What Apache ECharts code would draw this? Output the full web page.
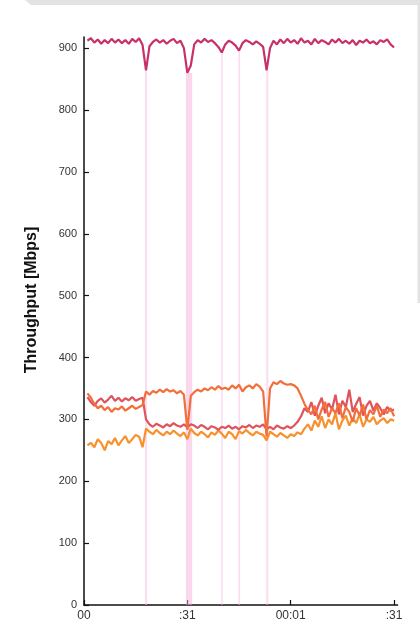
<!DOCTYPE html>
<html>
<head>
<meta charset="utf-8">
<script src="https://cdn.jsdelivr.net/npm/echarts@6/dist/echarts.min.js"></script>
<style>
html,body{margin:0;padding:0;background:#fff;}
#c{width:420px;height:627px;}
</style>
</head>
<body>
<div id="c"></div>
<script>
// sample times are 1 s apart, starting at t = 1 s
const xTickValues = [0, 30, 60, 90];
const xTickLabels = ['00', ':31', '00:01', ':31'];
const yTickValues = [0, 100, 200, 300, 400, 500, 600, 700, 800, 900];

const topSeries = [
  912, 916, 909, 914, 907, 913, 908, 915, 909, 914,
  908, 913, 907, 915, 910, 916, 905, 864, 903, 910,
  914, 909, 913, 907, 912, 915, 908, 912, 900, 860,
  872, 906, 913, 909, 915, 910, 913, 908, 902, 893,
  906, 912, 909, 904, 896, 908, 913, 910, 906, 911,
  907, 902, 864, 900, 912, 906, 914, 908, 915, 909,
  913, 907, 916, 909, 912, 906, 915, 908, 913, 910,
  906, 914, 909, 915, 908, 912, 907, 913, 905, 912,
  909, 914, 908, 911, 906, 913, 910, 914, 906, 901
];
const redSeries = [
  336, 328, 322, 330, 334, 327, 332, 338, 330, 335,
  329, 334, 331, 336, 330, 333, 335, 300, 292, 288,
  293, 290, 287, 292, 289, 294, 290, 288, 292, 287,
  292, 290, 286, 291, 288, 284, 289, 287, 283, 288,
  286, 290, 285, 288, 284, 289, 287, 291, 286, 290,
  288, 292, 284, 288, 284, 290, 287, 285, 289, 286,
  290, 296, 305, 318, 312, 328, 306, 322, 335, 310,
  326, 316, 340, 308, 330, 320, 348, 312, 325, 336,
  306, 322, 330, 314, 326, 318, 308, 320, 314, 316
];
const orangeRedSeries = [
  342, 335, 325, 318, 322, 315, 320, 312, 318, 316,
  321, 314, 318, 322, 317, 320, 323, 345, 340, 346,
  343, 348, 344, 349, 345, 347, 342, 346, 340, 283,
  338, 344, 348, 345, 350, 347, 352, 348, 354, 349,
  351, 348, 355, 350, 356, 345, 352, 355, 350, 357,
  353, 345, 272, 350, 360, 357, 362, 358, 356, 357,
  355, 350, 338, 325, 315, 308, 322, 300, 316, 328,
  304, 318, 310, 326, 302, 320, 312, 296, 318, 306,
  324, 300, 315, 308, 322, 304, 316, 310, 318, 305
];
const orangeSeries = [
  258, 262, 255, 268, 262, 250, 265, 260, 270, 258,
  266, 273, 262, 268, 275, 272, 255, 285, 280, 276,
  283, 278, 274, 280, 276, 282, 277, 273, 279, 268,
  285, 278, 274, 280, 276, 271, 279, 275, 282, 277,
  270, 280, 276, 268, 281, 277, 283, 278, 274, 280,
  277, 275, 266, 280, 276, 272, 278, 274, 270, 276,
  273, 279, 276, 285, 292, 282, 298, 288, 305, 286,
  300, 292, 310, 284, 298, 306, 290, 302, 294, 308,
  288, 300, 296, 304, 292, 298, 302, 294, 300, 298
];
const bandStart = [17.7, 29.6, 39.8, 44.8, 52.9];
const bandEnd = [18.3, 31.4, 40.3, 45.3, 53.5];
const bandTop = [864, 860, 893, 896, 864];

function pairs(arr) { return arr.map((v, i) => [i + 1, v]); }

const bands = bandStart.map((s, i) => {
  const wide = (bandEnd[i] - bandStart[i]) > 1;
  return [
    { xAxis: s, yAxis: 0, itemStyle: { color: wide ? 'rgba(246,175,218,0.5)' : 'rgba(248,190,225,0.5)' } },
    { xAxis: bandEnd[i], yAxis: bandTop[i] }
  ];
});

const chart = echarts.init(document.getElementById('c'), null, { renderer: 'canvas' });
const lineStyle = (c) => ({ color: c, width: 2.2 });
chart.setOption({
  animation: false,
  backgroundColor: '#ffffff',
  grid: { left: 84, right: 22.5, top: 37, bottom: 22 },
  xAxis: {
    type: 'value', min: 0, max: 91, interval: 30,
    axisLine: { show: true, lineStyle: { color: '#111', width: 1.5 } },
    axisTick: { show: true, inside: true, length: 5, customValues: xTickValues, lineStyle: { color: '#111', width: 1.2 } },
    axisLabel: {
      customValues: xTickValues,
      formatter: (v) => xTickLabels[xTickValues.indexOf(v)] || '',
      color: '#333', fontSize: 12, fontFamily: 'Liberation Sans, Arial, sans-serif', margin: 5
    },
    splitLine: { show: false }
  },
  yAxis: {
    type: 'value', min: 0, max: 918, interval: 100,
    axisLine: { show: true, lineStyle: { color: '#111', width: 1.5 } },
    axisTick: { show: true, inside: true, length: 5, customValues: yTickValues, lineStyle: { color: '#111', width: 1.2 } },
    axisLabel: {
      customValues: yTickValues,
      color: '#333', fontSize: 11, fontFamily: 'Liberation Sans, Arial, sans-serif', margin: 7
    },
    splitLine: { show: false }
  },
  graphic: [
    { type: 'polygon', shape: { points: [[25, 0], [420, 0], [420, 5], [31, 5]] }, style: { fill: '#e3e3e3' }, z: 100 },
    { type: 'rect', shape: { x: 417.5, y: 0, width: 2.5, height: 303 }, style: { fill: '#e3e3e3' }, z: 100 },
    {
      type: 'text', x: 32, y: 300, rotation: Math.PI / 2,
      style: {
        text: 'Throughput [Mbps]', fill: '#111', font: 'bold 16px "Liberation Sans", Arial, sans-serif',
        align: 'center', verticalAlign: 'middle'
      }
    }
  ],
  series: [
    {
      type: 'line', data: [], silent: true, z: 1,
      markArea: { silent: true, data: bands, itemStyle: { color: 'rgba(248,190,225,0.5)' } }
    },
    { type: 'line', data: pairs(orangeSeries), symbol: 'none', lineStyle: lineStyle('#f8902c'), z: 3 },
    { type: 'line', data: pairs(redSeries), symbol: 'none', lineStyle: lineStyle('#e0525c'), z: 4 },
    { type: 'line', data: pairs(orangeRedSeries), symbol: 'none', lineStyle: lineStyle('#f26e3a'), z: 5 },
    { type: 'line', data: pairs(topSeries), symbol: 'none', lineStyle: lineStyle('#c8306a'), z: 6 }
  ]
});
</script>
</body>
</html>
